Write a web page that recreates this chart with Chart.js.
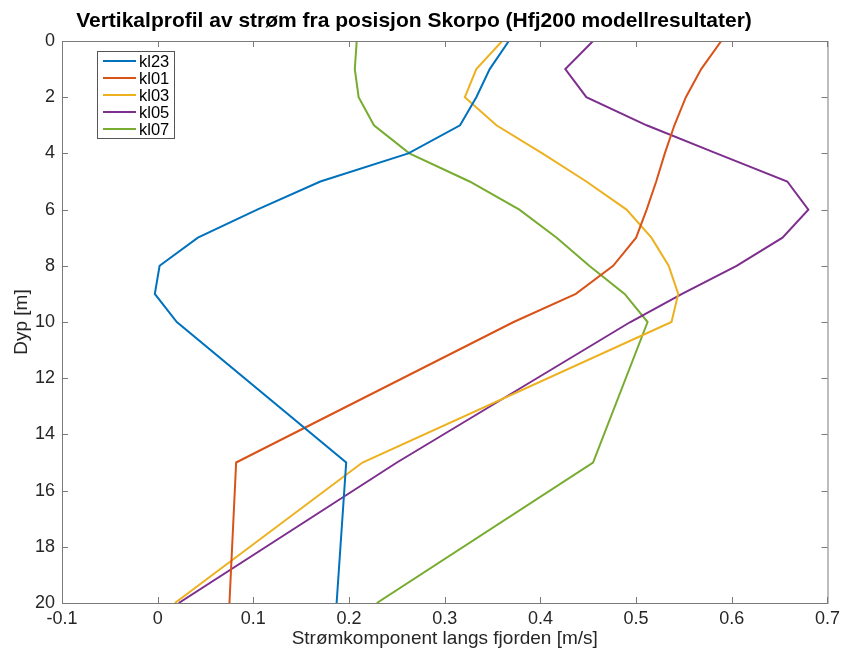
<!DOCTYPE html>
<html>
<head>
<meta charset="utf-8">
<script src="https://cdn.jsdelivr.net/npm/chart.js@4/dist/chart.umd.min.js"></script>
<style>
  html, body { margin: 0; padding: 0; background: #fff; }
  #wrap { width: 845px; height: 651px; }
</style>
</head>
<body>
<div id="wrap"><canvas id="chart" width="845" height="651"></canvas></div>
<script>
// depth levels [m]
const depths = [0, 1, 2, 3, 4, 5, 6, 7, 8, 9, 10, 15, 20];

// current component along the fjord [m/s]
const kl23 = [0.367, 0.347, 0.333, 0.316, 0.262, 0.170, 0.104, 0.042, 0.002, -0.003, 0.020, 0.197, 0.187];
const kl01 = [0.589, 0.568, 0.552, 0.540, 0.530, 0.521, 0.511, 0.500, 0.476, 0.437, 0.372, 0.082, 0.075];
const kl03 = [0.360, 0.333, 0.321, 0.354, 0.402, 0.448, 0.490, 0.516, 0.534, 0.544, 0.537, 0.214, 0.018];
const kl05 = [0.455, 0.426, 0.448, 0.511, 0.584, 0.658, 0.680, 0.653, 0.605, 0.548, 0.494, 0.250, 0.022];
const kl07 = [0.208, 0.206, 0.210, 0.226, 0.263, 0.326, 0.378, 0.417, 0.451, 0.488, 0.512, 0.455, 0.229];

const seriesNames = ["kl23", "kl01", "kl03", "kl05", "kl07"];
const seriesValues = [kl23, kl01, kl03, kl05, kl07];
const colors = ["#0072BD", "#D95319", "#EDB120", "#7E2F8E", "#77AC30"];

const FONT = "'Liberation Sans', Arial, Helvetica, sans-serif";
const AXIS_COLOR = "#7a7a7a";
const TEXT_COLOR = "#262626";

const datasets = seriesNames.map((name, i) => ({
    label: name,
    data: seriesValues[i].map((v, j) => ({ x: v, y: depths[j] })),
    borderColor: colors[i],
    backgroundColor: colors[i],
    borderWidth: 2,
    showLine: true,
    pointRadius: 0,
    tension: 0
}));

// MATLAB-like box with inward ticks + legend inside the axes
const boxPlugin = {
    id: "boxPlugin",
    afterDraw(chart) {
        const { ctx, chartArea: a, scales } = chart;
        const tl = 6;
        ctx.save();
        ctx.strokeStyle = AXIS_COLOR;
        ctx.lineWidth = 1;
        ctx.strokeRect(a.left + 0.5, a.top + 0.5, a.right - a.left, a.bottom - a.top);
        ctx.beginPath();
        scales.x.ticks.forEach(t => {
            const px = Math.round(scales.x.getPixelForValue(t.value)) + 0.5;
            ctx.moveTo(px, a.bottom); ctx.lineTo(px, a.bottom - tl);
            ctx.moveTo(px, a.top); ctx.lineTo(px, a.top + tl);
        });
        scales.y.ticks.forEach(t => {
            const py = Math.round(scales.y.getPixelForValue(t.value)) + 0.5;
            ctx.moveTo(a.left, py); ctx.lineTo(a.left + tl, py);
            ctx.moveTo(a.right, py); ctx.lineTo(a.right - tl, py);
        });
        ctx.stroke();

        // legend
        const lx = a.left + 35, ly = a.top + 10, lw = 77, rowH = 17;
        const n = chart.data.datasets.length;
        const lh = n * rowH + 2;
        ctx.fillStyle = "#fff";
        ctx.fillRect(lx, ly, lw, lh);
        ctx.strokeStyle = "#555";
        ctx.strokeRect(lx + 0.5, ly + 0.5, lw, lh);
        ctx.font = "16.5px " + FONT;
        ctx.textBaseline = "middle";
        chart.data.datasets.forEach((ds, i) => {
            const y = ly + 1 + rowH * (i + 0.5) + 0.5;
            ctx.strokeStyle = ds.borderColor;
            ctx.lineWidth = 2;
            ctx.beginPath();
            ctx.moveTo(lx + 6, y); ctx.lineTo(lx + 39, y);
            ctx.stroke();
            ctx.fillStyle = "#000";
            ctx.fillText(ds.label, lx + 42, y + 1);
        });
        ctx.restore();
    }
};

new Chart(document.getElementById("chart"), {
    type: "scatter",
    data: { datasets },
    options: {
        responsive: false,
        animation: false,
        layout: { padding: { left: 0, right: 17, top: 0, bottom: 0 } },
        plugins: {
            legend: { display: false },
            tooltip: { enabled: false },
            title: {
                display: true,
                text: "Vertikalprofil av strøm fra posisjon Skorpo (Hfj200 modellresultater)",
                color: "#000",
                font: { family: FONT, size: 21, weight: "bold" },
                padding: { top: 9, bottom: 6.8 }
            }
        },
        scales: {
            x: {
                type: "linear",
                min: -0.1,
                max: 0.7,
                grid: { display: false, drawTicks: false },
                border: { display: false },
                ticks: {
                    stepSize: 0.1,
                    padding: 5,
                    color: TEXT_COLOR,
                    font: { family: FONT, size: 18 },
                    callback: v => Number(v.toFixed(1)).toString()
                },
                title: {
                    display: true,
                    text: "Strømkomponent langs fjorden [m/s]",
                    color: TEXT_COLOR,
                    font: { family: FONT, size: 19 },
                    padding: { top: 0, bottom: 1 }
                },
                afterFit: s => { s.height = 48; }
            },
            y: {
                type: "linear",
                reverse: true,
                min: 0,
                max: 20,
                grid: { display: false, drawTicks: false },
                border: { display: false },
                ticks: {
                    stepSize: 2,
                    padding: 7,
                    color: TEXT_COLOR,
                    font: { family: FONT, size: 18 }
                },
                title: {
                    display: true,
                    text: "Dyp [m]",
                    color: TEXT_COLOR,
                    font: { family: FONT, size: 19 },
                    padding: { top: 10.5, bottom: 0 }
                },
                afterFit: s => { s.width = 62; }
            }
        }
    },
    plugins: [boxPlugin]
});
</script>
</body>
</html>
